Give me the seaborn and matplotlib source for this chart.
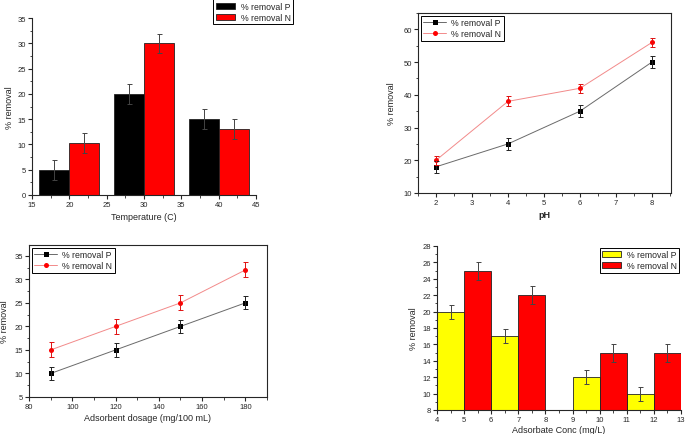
import matplotlib
matplotlib.use("Agg")
import pandas as pd
import matplotlib.pyplot as plt
import seaborn as sns
from matplotlib.ticker import MultipleLocator

series = ['% removal P', '% removal N']

# effect of temperature
temperature = [20, 30, 40]
temp_p = [5, 20, 15]
temp_n = [10.3, 30, 13]
temp_p_err = [2, 2, 2]
temp_n_err = [1.9, 1.9, 2]

# effect of pH
ph = [2, 4, 6, 8]
ph_p = [18, 25, 35, 50]
ph_n = [20, 38, 42, 56]
ph_p_err = [1.8, 1.8, 1.8, 1.8]
ph_n_err = [1.4, 1.5, 1.4, 1.3]

# effect of adsorbent dosage
dosage = [90, 120, 150, 180]
dose_p = [10, 15, 20, 25]
dose_n = [15, 20, 25, 32]
dose_p_err = [1.4, 1.4, 1.4, 1.4]
dose_n_err = [1.6, 1.6, 1.6, 1.6]

# effect of adsorbate concentration
conc = [5, 7, 10, 12]
conc_p = [20, 17, 12, 10]
conc_n = [25, 22, 15, 15]
conc_p_err = [0.85, 0.85, 0.85, 0.85]
conc_n_err = [1.1, 1.1, 1.1, 1.1]


def long_df(x, p, n):
    return pd.DataFrame({
        'x': list(x) + list(x),
        'y': list(p) + list(n),
        'series': [series[0]] * len(x) + [series[1]] * len(x),
    })


sns.set_style("ticks")
plt.rcParams['font.family'] = ['Liberation Sans', 'DejaVu Sans']
plt.rcParams['xtick.labelsize'] = 5.5
plt.rcParams['ytick.labelsize'] = 5.5
plt.rcParams['axes.labelsize'] = 6.5
plt.rcParams['axes.linewidth'] = 0.8
plt.rcParams['xtick.direction'] = 'out'
plt.rcParams['ytick.direction'] = 'out'
plt.rcParams['xtick.major.size'] = 3
plt.rcParams['ytick.major.size'] = 3
plt.rcParams['xtick.minor.size'] = 1.8
plt.rcParams['ytick.minor.size'] = 1.8
plt.rcParams['xtick.major.pad'] = 1.5
plt.rcParams['ytick.major.pad'] = 1.5

W, H = 685, 435
fig = plt.figure(figsize=(W / 100, H / 100), dpi=100)


def box(l, t, r, b):
    return [l / W, 1 - b / H, (r - l) / W, (b - t) / H]


def legend_style(ax, handles, **kw):
    opts = dict(fontsize=6.3, frameon=True, fancybox=False, framealpha=1,
                edgecolor='black', borderpad=0.3, labelspacing=0.2,
                handlelength=2.6, handletextpad=0.6, borderaxespad=0.3)
    opts.update(kw)
    leg = ax.legend(handles, series, **opts)
    leg.get_frame().set_linewidth(0.7)
    return leg


def bar_panel(ax, x, p, n, perr, nerr, colors, width):
    df = long_df(x, p, n)
    sns.barplot(data=df, x='x', y='y', hue='series', hue_order=series,
                palette=colors, saturation=1, native_scale=True, width=width,
                errorbar=None, edgecolor='#222222', linewidth=0.6,
                legend=False, ax=ax)
    bars = list(ax.containers[:2])
    for cont, err in zip(bars, [perr, nerr]):
        xs = [b.get_x() + b.get_width() / 2 for b in cont]
        ys = [b.get_height() for b in cont]
        ax.errorbar(xs, ys, yerr=err, fmt='none', ecolor='#444444',
                    elinewidth=0.7, capsize=1.8, capthick=0.7)
    sns.despine(ax=ax)
    return bars


def line_panel(ax, x, p, n, perr, nerr):
    df = long_df(x, p, n)
    sns.lineplot(data=df, x='x', y='y', hue='series', hue_order=series,
                 palette=['#6a6a6a', '#f28a8a'], style='series',
                 markers=['s', 'o'], dashes=False, markersize=3.6,
                 markeredgewidth=0, linewidth=0.7, legend=False, ax=ax)
    lines = ax.lines[:2]
    for line, mc in zip(lines, ['black', 'red']):
        line.set_markerfacecolor(mc)
        line.set_markeredgecolor(mc)
    for vals, err, ec in [(p, perr, '#222222'), (n, nerr, '#e01010')]:
        ax.errorbar(x, vals, yerr=err, fmt='none', ecolor=ec,
                    elinewidth=0.7, capsize=1.8, capthick=0.7)
    for side in ['top', 'right']:
        ax.spines[side].set_visible(True)
    return lines


# panel 1 - temperature
ax1 = fig.add_axes(box(32, 19, 256, 196))
bars1 = bar_panel(ax1, temperature, temp_p, temp_n, temp_p_err, temp_n_err,
                  ['black', '#ff0000'], 0.8)
ax1.set_xlim(15, 45)
ax1.set_ylim(0, 35)
ax1.xaxis.set_major_locator(MultipleLocator(5))
ax1.xaxis.set_minor_locator(MultipleLocator(2.5))
ax1.yaxis.set_major_locator(MultipleLocator(5))
ax1.yaxis.set_minor_locator(MultipleLocator(2.5))
ax1.set_xlabel('Temperature (C)', labelpad=3)
ax1.set_ylabel('% removal', labelpad=2)
legend_style(ax1, bars1, loc='upper left', handlelength=2.2,
             bbox_to_anchor=(0.81, 1.105), borderaxespad=0)

# panel 2 - pH
ax2 = fig.add_axes(box(418, 14, 671, 194))
lines2 = line_panel(ax2, ph, ph_p, ph_n, ph_p_err, ph_n_err)
ax2.set_xlim(1.5, 8.53)
ax2.set_ylim(10, 65)
ax2.xaxis.set_major_locator(MultipleLocator(1))
ax2.xaxis.set_minor_locator(MultipleLocator(0.5))
ax2.yaxis.set_major_locator(MultipleLocator(10))
ax2.yaxis.set_minor_locator(MultipleLocator(5))
ax2.set_xlabel('pH', labelpad=3, fontweight='bold')
ax2.set_ylabel('% removal', labelpad=5)
legend_style(ax2, lines2, loc='upper left')

# panel 3 - adsorbent dosage
ax3 = fig.add_axes(box(29, 246, 267, 398))
lines3 = line_panel(ax3, dosage, dose_p, dose_n, dose_p_err, dose_n_err)
ax3.set_xlim(80, 190)
ax3.set_ylim(5, 37.3)
ax3.xaxis.set_major_locator(MultipleLocator(20))
ax3.xaxis.set_minor_locator(MultipleLocator(10))
ax3.yaxis.set_major_locator(MultipleLocator(5))
ax3.yaxis.set_minor_locator(MultipleLocator(2.5))
ax3.set_xlabel('Adsorbent dosage (mg/100 mL)', labelpad=2)
ax3.set_ylabel('% removal', labelpad=4)
legend_style(ax3, lines3, loc='upper left')

# panel 4 - adsorbate concentration
ax4 = fig.add_axes(box(437, 247, 681, 411))
bars4 = bar_panel(ax4, conc, conc_p, conc_n, conc_p_err, conc_n_err,
                  ['#ffff00', '#ff0000'], 1.0)
ax4.set_xlim(4, 13)
ax4.set_ylim(8, 28)
ax4.xaxis.set_major_locator(MultipleLocator(1))
ax4.xaxis.set_minor_locator(MultipleLocator(0.5))
ax4.yaxis.set_major_locator(MultipleLocator(2))
ax4.yaxis.set_minor_locator(MultipleLocator(1))
ax4.set_xlabel('Adsorbate Conc (mg/L)', labelpad=1.5)
ax4.set_ylabel('% removal', labelpad=3)
legend_style(ax4, bars4, loc='upper right', borderaxespad=0.2,
             handlelength=2.2)

fig.savefig('out.png', dpi=100)
